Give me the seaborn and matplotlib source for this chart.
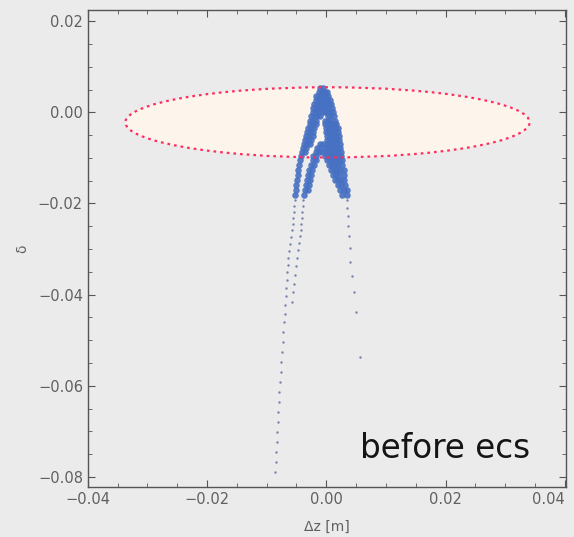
import pandas as pd
import seaborn as sns
import matplotlib.pyplot as plt
from matplotlib.patches import Ellipse
from matplotlib.ticker import MultipleLocator

# Dense head of the bunch.
# delta in units of 1e-3, dz in mm
core_delta = [5.3, 4.4, 3.5, 2.6, 1.8, 0.9, 0.0, -0.9, -1.8, -2.6, -3.5, -4.4, -5.3,
              -6.1, -7.0, -7.9, -8.8, -9.6, -10.5, -11.6, -12.7, -13.8, -14.9,
              -16.0, -17.1, -18.2]
core_dz = [
    [-1.0, -0.5],
    [-1.3, -0.8, -0.3, 0.2],
    [-1.7, -1.2, -0.7, -0.2, 0.3],
    [-1.8, -1.3, -0.8, -0.3, 0.2, 0.7],
    [-2.0, -1.5, -1.0, -0.5, 0.0, 0.5, 0.8],
    [-2.2, -1.7, -1.2, -0.7, -0.2, 0.3, 1.0],
    [-2.3, -1.8, -1.3, -0.8, -0.3, 0.2, 0.7, 1.2],
    [-2.5, -2.0, -1.5, -1.0, 0.3, 0.7, 1.3],
    [-2.7, -2.2, -1.7, -0.2, 0.3, 0.8, 1.5],
    [-2.8, -2.3, -1.8, -0.2, 0.3, 0.8, 1.3, 1.7],
    [-3.0, -2.5, -2.0, 0.0, 0.5, 1.0, 1.5, 1.9],
    [-3.2, -2.7, -2.2, 0.0, 0.5, 1.0, 1.5, 2.0],
    [-3.4, -2.9, -2.3, 0.2, 0.7, 1.2, 1.7, 2.2],
    [-3.5, -3.0, -2.5, 0.2, 0.7, 1.2, 1.7, 2.2],
    [-3.7, -3.2, -2.7, -1.0, -0.5, 0.2, 0.7, 1.2, 1.7, 2.3],
    [-3.9, -3.4, -1.5, -1.0, -0.3, 0.3, 0.8, 1.3, 1.8, 2.3],
    [-4.0, -3.5, -1.8, -1.3, -0.7, 0.0, 0.5, 1.0, 1.5, 2.0, 2.5],
    [-4.2, -2.2, -1.7, -0.2, 0.3, 0.8, 1.3, 1.8, 2.4],
    [-4.4, -2.3, -1.8, 0.2, 0.7, 1.2, 1.7, 2.2, 2.7],
    [-4.5, -2.5, -2.0, 0.5, 1.0, 1.5, 2.0, 2.7],
    [-4.7, -2.9, -2.4, 0.8, 1.3, 1.8, 2.3, 2.9],
    [-4.7, -3.0, -2.5, 1.2, 1.7, 2.2, 2.9],
    [-4.9, -3.2, -2.7, 1.5, 2.0, 2.5, 3.0],
    [-5.0, -3.4, -2.9, 2.0, 2.5, 3.2],
    [-5.0, -3.5, -3.0, 2.3, 2.9, 3.4],
    [-5.2, -3.7, 2.7, 3.4],
]

# Sparse tails (dz in mm, delta in 1e-3)
tail_outer_dz = [-5.20, -5.37, -5.37, -5.54, -5.54, -5.71, -5.87, -6.04, -6.21, -6.38,
                 -6.38, -6.54, -6.54, -6.71, -6.71, -6.88, -6.88, -7.05, -7.22, -7.22,
                 -7.38, -7.55, -7.55, -7.72, -7.89, -7.89, -8.05, -8.05, -8.22, -8.22,
                 -8.39, -8.39, -8.56]
tail_outer_delta = [-19.30, -20.61, -21.93, -23.25, -24.56, -25.88, -27.41, -28.95, -30.48,
                    -32.02, -33.55, -35.09, -36.84, -38.60, -40.35, -42.32, -44.30, -46.05,
                    -48.25, -50.44, -52.63, -54.82, -57.02, -59.21, -61.40, -63.60, -65.79,
                    -67.98, -70.18, -72.37, -74.56, -76.76, -78.95]
tail_inner_dz = [-3.86, -3.86, -4.03, -4.03, -4.20, -4.20, -4.36, -4.53, -4.70, -4.87,
                 -5.03, -5.20, -5.37, -5.54, -5.71]
tail_inner_delta = [-19.30, -20.61, -21.93, -23.25, -24.56, -25.88, -27.19, -28.73, -30.26,
                    -32.02, -33.77, -35.75, -37.72, -39.47, -41.67]
tail_right_dz = [3.52, 3.52, 3.69, 3.69, 3.86, 4.03, 4.03, 4.36, 4.70, 5.03, 5.71]
tail_right_delta = [-19.30, -21.05, -22.81, -25.00, -27.19, -29.82, -32.89, -35.96,
                    -39.47, -43.86, -53.73]

# acceptance ellipse
ell_center = (0.0002, -0.0022)
ell_width = 0.0678
ell_height = 0.0154

# build tables
core_x, core_y = [], []
for d, row in zip(core_delta, core_dz):
    for z in row:
        core_x.append(z * 1e-3)
        core_y.append(d * 1e-3)
core = pd.DataFrame({"dz": core_x, "delta": core_y})

tail = pd.DataFrame({
    "dz": [v * 1e-3 for v in tail_outer_dz + tail_inner_dz + tail_right_dz],
    "delta": [v * 1e-3 for v in tail_outer_delta + tail_inner_delta + tail_right_delta],
})

sns.set_theme(style="ticks")
plt.rcParams['font.family'] = ['DejaVu Sans']

bg = "#ebebeb"
fig = plt.figure(figsize=(5.74, 5.37), dpi=100, facecolor=bg)
ax = fig.add_axes([0.153, 0.093, 0.833, 0.888])
ax.set_facecolor(bg)

ax.add_patch(Ellipse(ell_center, ell_width, ell_height, facecolor="#fdf5ec",
                     edgecolor="none", zorder=1))

blue = "#4670c2"
sns.scatterplot(data=core, x="dz", y="delta", s=22, color=blue, linewidth=0,
                alpha=0.9, ax=ax, zorder=2)
sns.scatterplot(data=tail, x="dz", y="delta", s=3, color="#7484a8", linewidth=0,
                ax=ax, zorder=2)

ax.add_patch(Ellipse(ell_center, ell_width, ell_height, fill=False,
                     edgecolor="#ff2d5f", linestyle=(0, (1.2, 1.8)), linewidth=1.6,
                     zorder=3))

ax.set_xlim(-0.04, 0.0402)
ax.set_ylim(-0.0822, 0.0224)
ax.xaxis.set_major_locator(MultipleLocator(0.02))
ax.xaxis.set_minor_locator(MultipleLocator(0.005))
ax.yaxis.set_major_locator(MultipleLocator(0.02))
ax.yaxis.set_minor_locator(MultipleLocator(0.005))
ax.xaxis.set_major_formatter(lambda v, p: f"{v:.2f}".replace("-", "\u2212"))
ax.yaxis.set_major_formatter(lambda v, p: f"{v:.2f}".replace("-", "\u2212"))

ax.tick_params(which="both", direction="in", top=True, right=True,
               color="#555555", labelcolor="#606060", labelsize=10.5)
ax.tick_params(which="major", length=5, width=0.8)
ax.tick_params(which="minor", length=3, width=0.6)
for s in ax.spines.values():
    s.set_color("#555555")
    s.set_linewidth(1.0)

ax.set_xlabel("\u0394z [m]", color="#606060", fontsize=10, labelpad=9)
ax.set_ylabel("\u03b4", color="#606060", fontsize=10, labelpad=6)

ax.text(0.569, 0.061, "before ecs", transform=ax.transAxes, fontsize=23.5,
        color="#151515", ha="left", va="baseline")

# keep the last x tick label inside the picture, as in the reference
fig.canvas.draw()
for lab in ax.get_xticklabels():
    if lab.get_text() == "0.04":
        lab.set_horizontalalignment("right")

fig.savefig("out.png", dpi=100, facecolor=bg)
